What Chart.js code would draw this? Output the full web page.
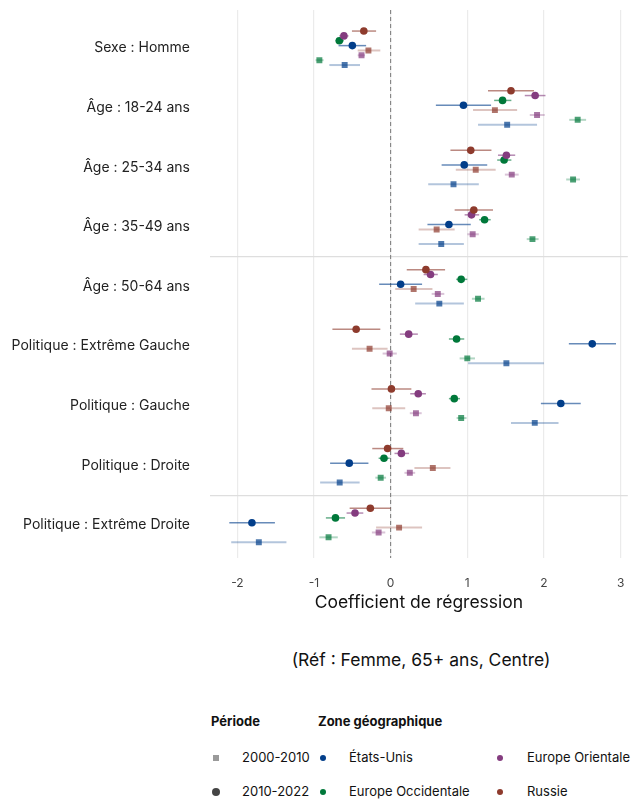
<!DOCTYPE html>
<html lang="fr">
<head>
<meta charset="UTF-8">
<title>Coefficients de régression</title>
<script src="https://cdn.jsdelivr.net/npm/chart.js@4.4.0/dist/chart.umd.min.js"></script>
<style>
  body { margin: 0; background: #fff; font-family: Inter, "Noto Sans", sans-serif; color: #111; }
  #wrap { position: relative; width: 632px; height: 801px; }
  #box { position: absolute; left: 0; top: 0; width: 632px; height: 620px; }
  .txt { position: absolute; white-space: nowrap; line-height: 1; }
  .ref { left: 0; width: 842px; text-align: center; top: 651px; font-size: 17.5px; }
  .lt { font-weight: 700; font-size: 13px; top: 715px; }
  .li { font-size: 13px; }
  .mk { position: absolute; }
</style>
</head>
<body>
<div id="wrap">
  <div id="box"><canvas id="chart"></canvas></div>
  <div class="txt ref">(Réf : Femme, 65+ ans, Centre)</div>

  <div class="txt lt" style="left:211px">Période</div>
  <div class="txt lt" style="left:318px">Zone géographique</div>

  <div class="mk" style="left:213px;top:755px;width:6px;height:6px;background:#9a9a9a"></div>
  <div class="txt li" style="left:242px;top:751px">2000-2010</div>
  <div class="mk" style="left:212px;top:788px;width:8px;height:8px;border-radius:50%;background:#444"></div>
  <div class="txt li" style="left:242px;top:785px">2010-2022</div>

  <div class="mk" style="left:320px;top:755px;width:6px;height:6px;border-radius:50%;background:#023e8a"></div>
  <div class="txt li" style="left:349px;top:751px">États-Unis</div>
  <div class="mk" style="left:320px;top:789px;width:6px;height:6px;border-radius:50%;background:#00783a"></div>
  <div class="txt li" style="left:349px;top:785px">Europe Occidentale</div>
  <div class="mk" style="left:497px;top:755px;width:6px;height:6px;border-radius:50%;background:#843c7f"></div>
  <div class="txt li" style="left:527px;top:751px">Europe Orientale</div>
  <div class="mk" style="left:497px;top:789px;width:6px;height:6px;border-radius:50%;background:#8e3b2d"></div>
  <div class="txt li" style="left:527px;top:785px">Russie</div>
</div>

<script>
const categories = ['Sexe : Homme', 'Âge : 18-24 ans', 'Âge : 25-34 ans', 'Âge : 35-49 ans', 'Âge : 50-64 ans',
  'Politique : Extrême Gauche', 'Politique : Gauche', 'Politique : Droite', 'Politique : Extrême Droite'];
const xTicks = [-2, -1, 0, 1, 2, 3];

// 2010-2022
const usEst22 = [-0.50, 0.95, 0.96, 0.76, 0.13, 2.63, 2.22, -0.54, -1.81];
const usLo22  = [-0.68, 0.59, 0.665, 0.48, -0.15, 2.325, 1.96, -0.79, -2.105];
const usHi22  = [-0.32, 1.31, 1.26, 1.045, 0.41, 2.94, 2.48, -0.29, -1.51];
const occEst22 = [-0.67, 1.46, 1.48, 1.225, 0.92, 0.86, 0.83, -0.087, -0.72];
const occLo22  = [-0.72, 1.35, 1.39, 1.155, 0.855, 0.76, 0.76, -0.157, -0.845];
const occHi22  = [-0.61, 1.575, 1.575, 1.305, 1.00, 0.96, 0.905, -0.013, -0.595];
const oriEst22 = [-0.61, 1.885, 1.51, 1.055, 0.52, 0.235, 0.36, 0.14, -0.465];
const oriLo22  = [-0.67, 1.75, 1.40, 0.965, 0.43, 0.12, 0.255, 0.05, -0.575];
const oriHi22  = [-0.55, 2.02, 1.625, 1.155, 0.615, 0.355, 0.46, 0.24, -0.357];
const rusEst22 = [-0.35, 1.57, 1.045, 1.085, 0.46, -0.45, 0.01, -0.04, -0.265];
const rusLo22  = [-0.505, 1.27, 0.78, 0.835, 0.21, -0.76, -0.25, -0.24, -0.535];
const rusHi22  = [-0.19, 1.87, 1.315, 1.335, 0.71, -0.135, 0.27, 0.165, 0.0];

// 2000-2010
const usEst10 = [-0.60, 1.52, 0.82, 0.66, 0.635, 1.51, 1.88, -0.665, -1.72];
const usLo10  = [-0.80, 1.14, 0.49, 0.365, 0.32, 1.01, 1.57, -0.92, -2.08];
const usHi10  = [-0.40, 1.91, 1.15, 0.955, 0.955, 2.0, 2.19, -0.405, -1.36];
const occEst10 = [-0.93, 2.44, 2.38, 1.85, 1.14, 1.0, 0.92, -0.13, -0.81];
const occLo10  = [-0.98, 2.33, 2.29, 1.775, 1.06, 0.90, 0.86, -0.20, -0.93];
const occHi10  = [-0.875, 2.55, 2.47, 1.93, 1.225, 1.10, 0.99, -0.06, -0.69];
const oriEst10 = [-0.38, 1.91, 1.58, 1.07, 0.615, -0.013, 0.33, 0.25, -0.157];
const oriLo10  = [-0.43, 1.815, 1.49, 1.00, 0.535, -0.105, 0.25, 0.18, -0.245];
const oriHi10  = [-0.335, 2.01, 1.67, 1.15, 0.70, 0.08, 0.405, 0.32, -0.07];
const rusEst10 = [-0.29, 1.36, 1.11, 0.60, 0.30, -0.275, -0.025, 0.55, 0.11];
const rusLo10  = [-0.43, 1.075, 0.85, 0.365, 0.06, -0.505, -0.24, 0.31, -0.19];
const rusHi10  = [-0.135, 1.65, 1.37, 0.835, 0.545, -0.04, 0.19, 0.78, 0.41];

const rgb = { us: '2,62,138', occ: '0,120,58', ori: '132,60,127', rus: '142,59,45' };

// top-to-bottom order inside each category
const rows = [
  { c: rgb.rus, est: rusEst22, lo: rusLo22, hi: rusHi22, sq: false },
  { c: rgb.ori, est: oriEst22, lo: oriLo22, hi: oriHi22, sq: false },
  { c: rgb.occ, est: occEst22, lo: occLo22, hi: occHi22, sq: false },
  { c: rgb.us,  est: usEst22,  lo: usLo22,  hi: usHi22,  sq: false },
  { c: rgb.rus, est: rusEst10, lo: rusLo10, hi: rusHi10, sq: true },
  { c: rgb.ori, est: oriEst10, lo: oriLo10, hi: oriHi10, sq: true },
  { c: rgb.occ, est: occEst10, lo: occLo10, hi: occHi10, sq: true },
  { c: rgb.us,  est: usEst10,  lo: usLo10,  hi: usHi10,  sq: true }
];
const step = 0.0814;
const yOf = (i, j) => i + (j - 3.5) * step;

const datasets = rows.map((r, j) => ({
  data: r.est.map((v, i) => ({ x: v, y: yOf(i, j) })),
  lo: r.lo, hi: r.hi,
  pointStyle: r.sq ? 'rect' : 'circle',
  pointRadius: r.sq ? 4.2 : 3.8,
  backgroundColor: r.sq ? `rgba(${r.c},0.7)` : `rgb(${r.c})`,
  borderWidth: 0,
  ciColor: r.sq ? `rgba(${r.c},0.3)` : `rgba(${r.c},0.6)`,
  ciWidth: r.sq ? 2 : 1.5
}));

const errorBars = {
  id: 'errorBars',
  beforeDatasetsDraw(chart) {
    const { ctx, scales: { x, y }, chartArea } = chart;
    ctx.save();
    // zero line
    ctx.strokeStyle = '#777';
    ctx.lineWidth = 1;
    ctx.setLineDash([4, 3]);
    ctx.beginPath();
    ctx.moveTo(x.getPixelForValue(0), chartArea.top);
    ctx.lineTo(x.getPixelForValue(0), chartArea.bottom);
    ctx.stroke();
    ctx.setLineDash([]);
    chart.data.datasets.forEach(ds => {
      ctx.strokeStyle = ds.ciColor;
      ctx.lineWidth = ds.ciWidth;
      ds.data.forEach((p, i) => {
        const py = y.getPixelForValue(p.y);
        ctx.beginPath();
        ctx.moveTo(x.getPixelForValue(ds.lo[i]), py);
        ctx.lineTo(x.getPixelForValue(ds.hi[i]), py);
        ctx.stroke();
      });
    });
    ctx.restore();
  }
};

new Chart(document.getElementById('chart'), {
  type: 'scatter',
  data: { datasets },
  plugins: [errorBars],
  options: {
    responsive: true,
    maintainAspectRatio: false,
    animation: false,
    layout: { padding: { top: 10, right: 0, left: 0, bottom: 0 } },
    plugins: { legend: { display: false }, tooltip: { enabled: false } },
    scales: {
      x: {
        type: 'linear',
        min: -2.357, max: 3.094,
        afterBuildTicks: s => { s.ticks = xTicks.map(v => ({ value: v })); },
        afterFit: s => { s.height = 62; s.paddingLeft = 0; s.paddingRight = 0; },
        grid: { color: '#ebebeb', lineWidth: 1.2, drawTicks: false },
        border: { display: false },
        ticks: { color: '#444', font: { size: 12, family: 'Inter' }, padding: 18 },
        title: { display: true, text: 'Coefficient de régression', color: '#111',
                 font: { size: 17.5, family: 'Inter' }, padding: { top: 0, bottom: 7 } }
      },
      y: {
        type: 'linear',
        reverse: true,
        min: -0.638, max: 8.55,
        afterBuildTicks: s => {
          s.ticks = [0, 1, 2, 3, 3.5, 4, 5, 6, 7, 7.5, 8].map(v => ({ value: v }));
        },
        afterFit: s => { s.width = 210; s.paddingTop = 0; s.paddingBottom = 0; },
        grid: {
          drawTicks: false,
          lineWidth: 1.2,
          color: c => (c.tick && !Number.isInteger(c.tick.value)) ? '#dedede' : 'rgba(0,0,0,0)'
        },
        border: { display: false },
        ticks: {
          autoSkip: false,
          color: '#222',
          padding: 20,
          font: { size: 14, family: 'Inter' },
          callback: v => Number.isInteger(v) ? categories[v] : ''
        }
      }
    }
  }
});
</script>
</body>
</html>
